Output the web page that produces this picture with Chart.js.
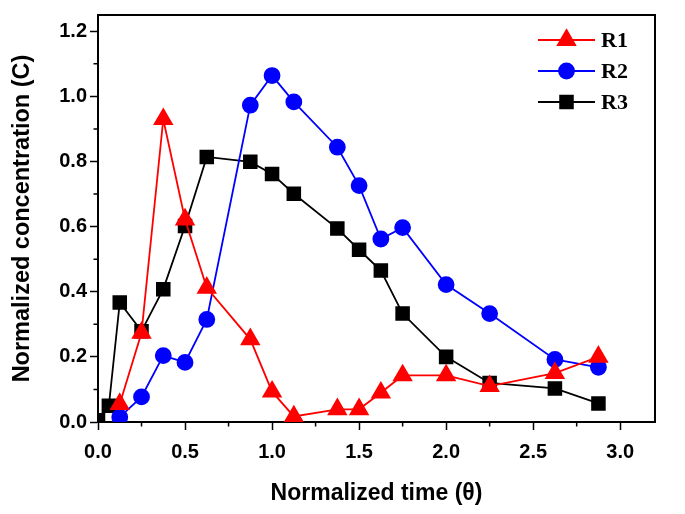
<!DOCTYPE html>
<html>
<head>
<meta charset="utf-8">
<script src="https://cdn.jsdelivr.net/npm/chart.js@4.4.1/dist/chart.umd.min.js"></script>
<style>
  html, body { margin: 0; padding: 0; background: #fff; }
  #wrap { width: 685px; height: 514px; }
</style>
</head>
<body>
<div id="wrap"><canvas id="c" width="685" height="514"></canvas></div>
<script>
// ---- data ----
const seriesNames = ["R1", "R2", "R3"];
const timeR1 = [0.125, 0.25, 0.375, 0.5, 0.625, 0.875, 1.0, 1.125, 1.375, 1.5, 1.625, 1.75, 2.0, 2.25, 2.625, 2.875];
const concR1 = [0.055, 0.274, 0.93, 0.622, 0.412, 0.254, 0.093, 0.017, 0.039, 0.039, 0.09, 0.143, 0.143, 0.11, 0.15, 0.2];
const timeR2 = [0.125, 0.25, 0.375, 0.5, 0.625, 0.875, 1.0, 1.125, 1.375, 1.5, 1.625, 1.75, 2.0, 2.25, 2.625, 2.875];
const concR2 = [0.015, 0.077, 0.204, 0.183, 0.315, 0.973, 1.064, 0.983, 0.844, 0.726, 0.562, 0.597, 0.422, 0.333, 0.192, 0.168];
const timeR3 = [0, 0.0625, 0.125, 0.25, 0.375, 0.5, 0.625, 0.875, 1.0, 1.125, 1.375, 1.5, 1.625, 1.75, 2.0, 2.25, 2.625, 2.875];
const concR3 = [0.005, 0.05, 0.367, 0.279, 0.408, 0.602, 0.814, 0.799, 0.762, 0.701, 0.594, 0.529, 0.465, 0.333, 0.2, 0.12, 0.103, 0.057];
const xTickValues = [0, 0.5, 1.0, 1.5, 2.0, 2.5, 3.0];
const yTickValues = [0, 0.2, 0.4, 0.6, 0.8, 1.0, 1.2];
const xMinorValues = [0.25, 0.75, 1.25, 1.75, 2.25, 2.75];
const yMinorValues = [0.1, 0.3, 0.5, 0.7, 0.9, 1.1];
const xTitle = "Normalized time (θ)";
const yTitle = "Normalized concentration (C)";

const toPts = (xs, ys) => xs.map((x, i) => ({ x: x, y: ys[i] }));

const sansBold = (size) => ({ family: "'Liberation Sans', Arial, sans-serif", size: size, weight: 'bold' });

// frame, minor ticks and legend
const decor = {
  id: 'decor',
  beforeDatasetsDraw(chart) {
    const { ctx, chartArea: a, scales } = chart;
    ctx.save();
    ctx.strokeStyle = '#000';
    ctx.lineWidth = 2;
    ctx.strokeRect(a.left, a.top, a.right - a.left, a.bottom - a.top);
    ctx.lineWidth = 1.5;
    ctx.beginPath();
    xMinorValues.forEach(v => {
      const px = scales.x.getPixelForValue(v);
      ctx.moveTo(px, a.bottom); ctx.lineTo(px, a.bottom + 4.5);
    });
    yMinorValues.forEach(v => {
      const py = scales.y.getPixelForValue(v);
      ctx.moveTo(a.left, py); ctx.lineTo(a.left - 4.5, py);
    });
    ctx.stroke();
    ctx.restore();
  },
  afterDraw(chart) {
    const { ctx, chartArea: a } = chart;
    ctx.save();
    chart.data.datasets.forEach((ds, i) => {
      const y = a.top + 25 + i * 31;
      const x0 = a.right - 117, x1 = a.right - 60, xm = (x0 + x1) / 2;
      ctx.strokeStyle = ds.borderColor;
      ctx.lineWidth = ds.borderWidth;
      ctx.beginPath(); ctx.moveTo(x0, y); ctx.lineTo(x1, y); ctx.stroke();
      ctx.fillStyle = ds.pointBackgroundColor;
      ctx.strokeStyle = ds.pointBorderColor;
      Chart.helpers.drawPoint(ctx, { pointStyle: ds.pointStyle, radius: ds.pointRadius, borderWidth: 1, rotation: 0 }, xm, y);
      ctx.fillStyle = '#000';
      ctx.font = "bold 22px 'Liberation Serif', 'Times New Roman', serif";
      ctx.textBaseline = 'middle';
      ctx.textAlign = 'left';
      ctx.fillText(ds.label, a.right - 54, y + 1);
    });
    ctx.restore();
  }
};

new Chart(document.getElementById('c'), {
  type: 'line',
  data: {
    datasets: [
      { label: seriesNames[0], data: toPts(timeR1, concR1), borderColor: '#ff0000', backgroundColor: '#ff0000',
        pointBackgroundColor: '#ff0000', pointBorderColor: '#ff0000', pointStyle: 'triangle', pointRadius: 10, borderWidth: 1.8 },
      { label: seriesNames[1], data: toPts(timeR2, concR2), borderColor: '#0000ff', backgroundColor: '#0000ff',
        pointBackgroundColor: '#0000ff', pointBorderColor: '#0000ff', pointStyle: 'circle', pointRadius: 7.5, borderWidth: 1.8 },
      { label: seriesNames[2], data: toPts(timeR3, concR3), borderColor: '#000000', backgroundColor: '#000000',
        pointBackgroundColor: '#000000', pointBorderColor: '#000000', pointStyle: 'rect', pointRadius: 9, borderWidth: 1.8 }
    ]
  },
  options: {
    responsive: false,
    animation: false,
    devicePixelRatio: 1,
    layout: { padding: { left: 0, right: 30, top: 9, bottom: 0 } },
    plugins: { legend: { display: false }, tooltip: { enabled: false } },
    elements: { line: { tension: 0 }, point: { borderWidth: 1 } },
    scales: {
      x: {
        type: 'linear', min: 0, max: 3.2,
        afterBuildTicks: s => { s.ticks = xTickValues.map(v => ({ value: v })); },
        afterFit: s => { s.height = 92; },
        ticks: { color: '#000', font: sansBold(20), padding: 10, callback: v => Number(v).toFixed(1), maxRotation: 0, autoSkip: false },
        grid: { display: true, drawOnChartArea: false, drawTicks: true, tickLength: 8, tickColor: '#000', tickWidth: 1.5 },
        border: { display: true, color: '#000', width: 2 },
        title: { display: true, text: xTitle, color: '#000', font: sansBold(23), padding: { top: 0, bottom: 7 } }
      },
      y: {
        type: 'linear', min: 0, max: 1.25,
        afterBuildTicks: s => { s.ticks = yTickValues.map(v => ({ value: v })); },
        afterFit: s => { s.width = 98; },
        ticks: { color: '#000', font: sansBold(20), padding: 3, callback: v => Number(v).toFixed(1), autoSkip: false },
        grid: { display: true, drawOnChartArea: false, drawTicks: true, tickLength: 8, tickColor: '#000', tickWidth: 1.5 },
        border: { display: true, color: '#000', width: 2 },
        title: { display: true, text: yTitle, color: '#000', font: sansBold(23.5), padding: { top: 8, bottom: 0 } }
      }
    }
  },
  plugins: [decor]
});
</script>
</body>
</html>
